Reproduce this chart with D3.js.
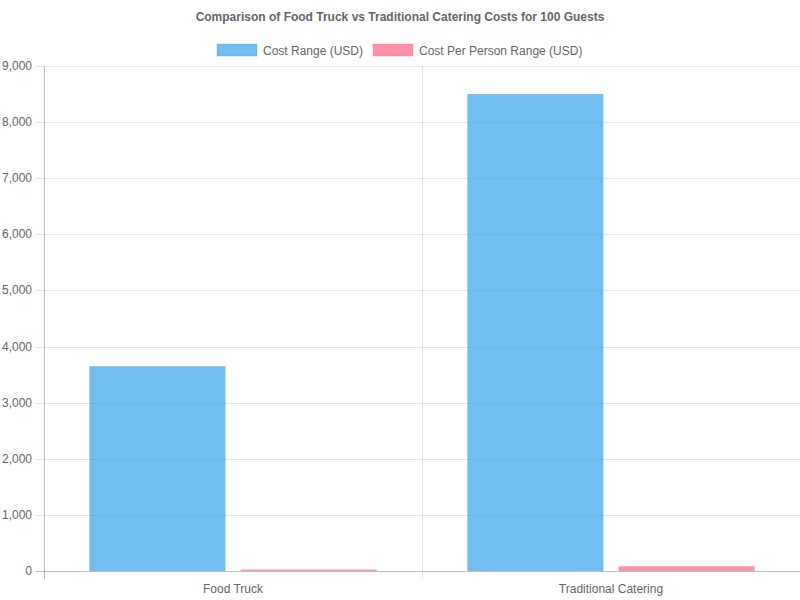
<!DOCTYPE html>
<html>
<head>
<meta charset="utf-8">
<script src="https://cdn.jsdelivr.net/npm/d3@7"></script>
<style>
  body { margin: 0; background: #fff; }
  svg { display: block; font-family: "Liberation Sans", Arial, sans-serif; }
</style>
</head>
<body>
<svg id="chart" width="800" height="600"></svg>
<script>
// Data
const categories = ["Food Truck", "Traditional Catering"];
const seriesNames = ["Cost Range (USD)", "Cost Per Person Range (USD)"];
const costRange = [3650, 8500];
const costPerPerson = [25, 85];
const yTicks = [0, 1000, 2000, 3000, 4000, 5000, 6000, 7000, 8000, 9000];

const fills = ["rgba(54,162,235,0.7)", "rgba(255,99,132,0.7)"];
const strokes = ["rgba(54,162,235,0.35)", "rgba(255,99,132,0.35)"];

const W = 800, H = 600;
const margin = { top: 66, right: 0, bottom: 29, left: 44 };
const svg = d3.select("#chart");
const grid = "rgba(0,0,0,0.1)";

const x = d3.scaleBand().domain(categories).range([margin.left, W - margin.right]);
const y = d3.scaleLinear().domain([0, 9000]).range([H - margin.bottom, margin.top]);
const xInner = d3.scaleBand().domain(seriesNames)
  .range([0, x.bandwidth() * 0.8]).paddingInner(0.1 / 0.9 * 0).padding(0);

// Title
svg.append("text")
  .attr("x", W / 2).attr("y", 21)
  .attr("text-anchor", "middle")
  .attr("fill", "#666").attr("font-size", "12px").attr("font-weight", "bold")
  .text("Comparison of Food Truck vs Traditional Catering Costs for 100 Guests");

// Legend
const legendItems = [{ name: seriesNames[0], x: 217 }, { name: seriesNames[1], x: 373 }];
legendItems.forEach((d, i) => {
  svg.append("rect")
    .attr("x", d.x).attr("y", 44).attr("width", 40).attr("height", 12)
    .attr("fill", fills[i]).attr("stroke", strokes[i]);
  svg.append("text")
    .attr("x", d.x + 46).attr("y", 54.5)
    .attr("fill", "#666").attr("font-size", "12px")
    .text(d.name);
});

// Horizontal gridlines
svg.append("g").selectAll("line").data(yTicks).join("line")
  .attr("x1", margin.left - 8).attr("x2", W - margin.right)
  .attr("y1", d => Math.round(y(d)) + 0.5).attr("y2", d => Math.round(y(d)) + 0.5)
  .attr("stroke", d => d === 0 ? "rgba(0,0,0,0.25)" : grid);

// Vertical gridlines at category boundaries
const xBounds = [margin.left, x(categories[1]), W - margin.right - 0.5];
svg.append("g").selectAll("line").data(xBounds).join("line")
  .attr("x1", d => Math.round(d) + 0.5).attr("x2", d => Math.round(d) + 0.5)
  .attr("y1", margin.top).attr("y2", H - margin.bottom + 8)
  .attr("stroke", (d, i) => i === 0 ? "rgba(0,0,0,0.25)" : grid);

// Y tick labels
svg.append("g").selectAll("text").data(yTicks).join("text")
  .attr("x", margin.left - 12).attr("y", d => y(d) + 4)
  .attr("text-anchor", "end")
  .attr("fill", "#666").attr("font-size", "12px")
  .text(d => d3.format(",")(d));

// X tick labels
svg.append("g").selectAll("text").data(categories).join("text")
  .attr("x", d => x(d) + x.bandwidth() / 2).attr("y", H - margin.bottom + 22)
  .attr("text-anchor", "middle")
  .attr("fill", "#666").attr("font-size", "12px")
  .text(d => d);

// Bars
const rows = categories.map((c, i) => ({ cat: c, vals: [costRange[i], costPerPerson[i]] }));
const catW = x.bandwidth() * 0.8;
const barW = catW / 2 * 0.9;
rows.forEach(r => {
  const start = x(r.cat) + (x.bandwidth() - catW) / 2;
  r.vals.forEach((v, j) => {
    const bx = start + j * catW / 2 + (catW / 2 - barW) / 2;
    svg.append("rect")
      .attr("x", bx).attr("width", barW)
      .attr("y", y(v)).attr("height", y(0) - y(v))
      .attr("fill", fills[j]);
  });
});
</script>
</body>
</html>
